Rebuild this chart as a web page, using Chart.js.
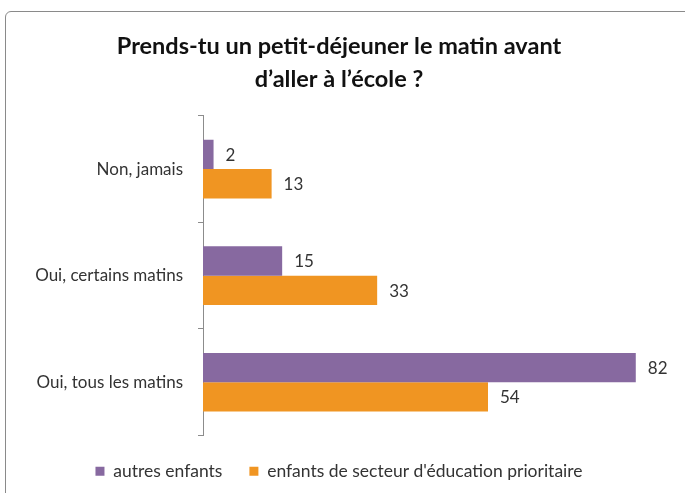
<!DOCTYPE html>
<html>
<head>
<meta charset="utf-8">
<script src="https://cdn.jsdelivr.net/npm/chart.js@4"></script>
<style>
  body { margin: 0; background: #fff; }
  #wrap { position: relative; width: 685px; height: 493px; overflow: hidden; }
  #frame { position: absolute; left: 5px; top: 11px; width: 700px; height: 520px;
           border: 1px solid #8a8a8a; border-radius: 6px; box-sizing: border-box; }
  canvas { position: absolute; left: 0; top: 0; }
</style>
</head>
<body>
<div id="wrap">
  <div id="frame"></div>
  <canvas id="breakfastChart" width="685" height="493"></canvas>
</div>
<script>
// data
const categories = ['Non, jamais', 'Oui, certains matins', 'Oui, tous les matins'];
const seriesNames = ['autres enfants', "enfants de secteur d'éducation prioritaire"];
const autresEnfants = [2, 15, 82];
const secteurPrioritaire = [13, 33, 54];
const titleLines = ['Prends-tu un petit-déjeuner le matin avant', 'd\u2019aller à l\u2019école ?'];

const FONT = 'Lato, "Open Sans", sans-serif';

// writes the value to the right of each bar
const valueLabels = {
    id: 'valueLabels',
    afterDatasetsDraw(chart) {
        let ctx = chart.ctx;
        ctx.save();
        ctx.font = '17px ' + FONT;
        ctx.fillStyle = '#333';
        ctx.textAlign = 'left';
        ctx.textBaseline = 'middle';
        chart.data.datasets.forEach((ds, i) => {
            chart.getDatasetMeta(i).data.forEach((bar, j) => {
                ctx.fillText(ds.data[j], bar.x + 12, bar.y + 1);
            });
        });
        ctx.restore();
    }
};

let canvas = document.getElementById('breakfastChart').getContext('2d');
let breakfastChart = new Chart(canvas, {
    type: 'bar',
    data: {
        labels: categories,
        datasets: [{
            label: seriesNames[0],
            data: autresEnfants,
            backgroundColor: '#8769a0'
        }, {
            label: seriesNames[1],
            data: secteurPrioritaire,
            backgroundColor: '#f09522'
        }]
    },
    options: {
        indexAxis: 'y',
        responsive: false,
        animation: false,
        categoryPercentage: 0.55,
        barPercentage: 1.0,
        layout: { padding: { top: 30, right: 7, bottom: 3, left: 0 } },
        scales: {
            x: { display: false, min: 0, max: 90 },
            y: {
                afterFit(scale) { scale.width = 203; },
                border: { display: true, color: '#8c8c8c', width: 1 },
                grid: { display: true, drawOnChartArea: false, offset: true, tickLength: 5, color: '#8c8c8c' },
                ticks: { color: '#333', font: { family: FONT, size: 17 }, padding: 15 }
            }
        },
        plugins: {
            title: {
                display: true,
                text: titleLines,
                color: '#111',
                font: { family: FONT, size: 23.5, weight: 'bold', lineHeight: 1.4 },
                padding: { top: 0, bottom: 20 }
            },
            legend: {
                position: 'bottom',
                labels: {
                    color: '#333',
                    font: { family: FONT, size: 17.5 },
                    boxWidth: 9,
                    boxHeight: 9,
                    padding: 27
                }
            },
            tooltip: { enabled: false }
        }
    },
    plugins: [valueLabels]
});
</script>
</body>
</html>
